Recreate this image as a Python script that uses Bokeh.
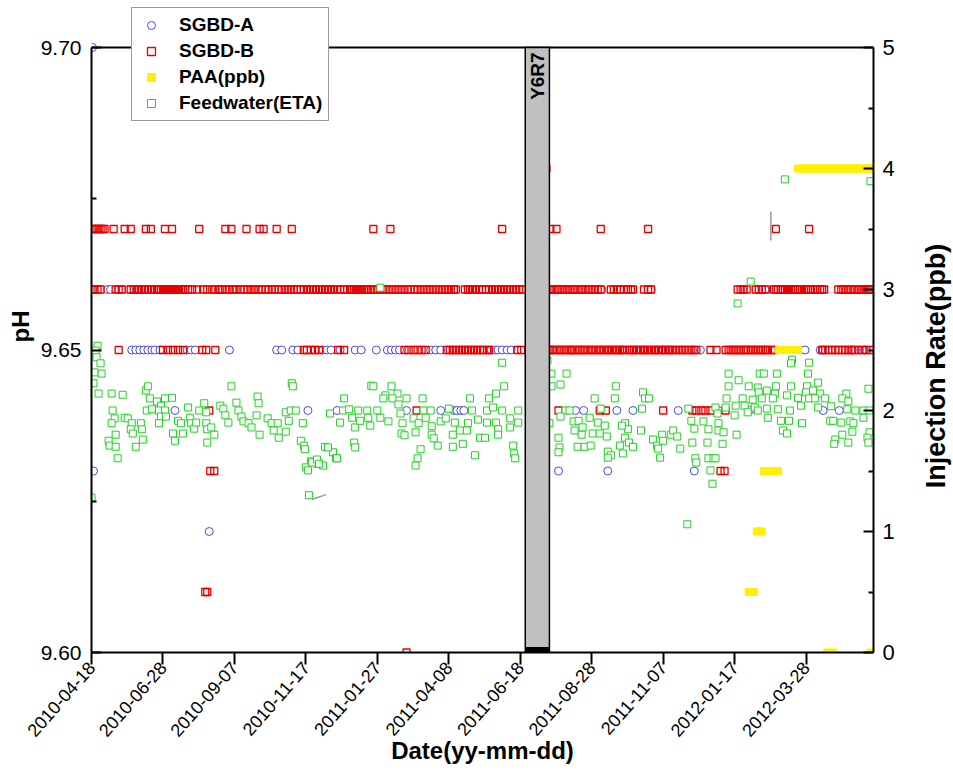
import math
from datetime import datetime
from bokeh.plotting import figure
from bokeh.layouts import row
from bokeh.core.properties import value
from bokeh.models import (Range1d, LinearAxis, FixedTicker, DatetimeTickFormatter,
                          NumeralTickFormatter, Legend, LegendItem, Label)
from bokeh.embed import file_html
from bokeh.resources import INLINE

# ---------------- data ----------------
START_DATE = "2010-04-18"          # day 0 of all day offsets below
X_END_DAY = 777                    # right end of the date axis (day offset)
tick_labels = ["2010-04-18", "2010-06-28", "2010-09-07", "2010-11-17", "2011-01-27",
               "2011-04-08", "2011-06-18", "2011-08-28", "2011-11-07", "2012-01-17",
               "2012-03-28"]
ph_ticks = [9.60, 9.65, 9.70]
ph_minor = [9.625, 9.675]
rate_ticks = [0, 1, 2, 3, 4, 5]
rate_minor = [0.5, 1.5, 2.5, 3.5, 4.5]
outage_label = "Y6R7"
outage_days = [431, 455]           # shaded outage period (day offsets)

# SGBD-A (blue circles): day offsets per pH level
a_970_days = [1]
a_966_days = [16, 19, 31, 37, 456, 507, 556, 647, 669, 687, 769, 774]
a_965_days = [40, 44, 48, 52, 56, 60, 63, 68, 95, 99, 103, 137, 184, 189, 200, 205, 230, 234,
              238, 247, 262, 268, 283, 294, 298, 302, 306, 337, 342, 347, 397, 401, 404, 408,
              413, 417, 458, 477, 527, 568, 605, 709, 724, 727, 756, 768]
a_964_days = [83, 215, 244, 313, 347, 360, 363, 367, 370, 481, 489, 522, 538, 583, 623, 654,
              727, 743]
a_963_days = [2, 464, 513, 599]
a_962_days = [117]

# SGBD-B (red squares): day offsets per pH level
b_968_days = [452]
b_967_days = [1, 3, 5, 7, 9, 11, 13, 22, 33, 39, 54, 59, 73, 80, 107, 133, 139, 154, 167, 171,
              184, 199, 280, 297, 408, 456, 462, 506, 553, 680, 713]
b_966_days = [1, 3, 6, 9, 24, 27, 30, 39, 42, 45, 47, 50, 53, 56, 59, 62, 65, 67, 69, 71, 73,
              75, 77, 79, 81, 83, 85, 87, 89, 91, 93, 96, 100, 105, 111, 115,
              120, 123, 126, 128, 130, 133, 137, 140, 142, 144, 148, 152, 155, 158, 161, 163,
              166, 169, 173, 176, 179, 182, 186, 189, 192, 195, 198, 201, 204, 208, 211, 214,
              217, 220, 223, 226, 229, 232, 235, 238, 241, 244, 247, 251, 254, 257, 259, 261,
              263, 265, 267, 269, 271, 273, 275, 278, 281, 284, 287, 290, 293, 296, 299, 302,
              305, 308, 311, 314, 317, 321, 324, 327, 330, 333, 336, 339, 342, 345, 348, 351,
              354, 357, 360, 362,
              371, 374, 376, 379, 382, 385, 388, 392, 395, 398, 401, 404, 407, 410, 413, 416,
              419, 422, 425, 428,
              455, 457, 460, 463, 465, 468, 470, 473, 475, 478, 480, 483, 486, 488, 491, 494,
              497, 500, 503, 506,
              516, 519, 522, 525, 529, 533, 536, 538,
              549, 553, 556,
              642, 645, 648, 651,
              660, 663, 666, 670,
              678, 680, 682, 685, 687, 689, 691,
              693, 695, 697, 699, 702, 704, 706, 708, 710, 712, 715, 717, 719, 721, 724, 726,
              728,
              742, 745, 747, 750, 752, 755, 758, 761, 763, 765, 767, 770, 772, 775]
b_965_days = [27, 71, 76, 81, 86, 91, 110, 114, 123, 211, 214, 218, 222, 226, 245, 251, 311,
              315, 320, 324, 328, 332, 353, 356, 359, 362, 365, 368, 371, 374, 377, 380, 383,
              386, 389, 393, 395, 423, 427,
              454, 456, 459, 462, 465, 467, 470, 472, 475, 477, 480, 483, 485, 488, 490, 493,
              496, 498, 501, 504, 506, 509, 512, 514, 517, 520, 522, 525, 528, 530, 534, 537,
              539, 542, 545, 548, 550, 553, 556, 559, 561, 564, 567, 570, 573, 575, 578, 581,
              584, 587, 590, 593, 596, 599, 601, 615, 621, 630, 633, 635, 638, 640, 643, 645,
              648, 650, 652, 655, 657, 660, 662, 665, 667, 670, 672, 676, 678, 726, 729, 732,
              736, 739, 742, 746, 749, 752, 755, 758, 762, 766, 770, 774]
b_964_days = [117, 323, 464, 505, 511, 568, 597, 601, 606, 610, 615, 630]
b_963_days = [118, 122, 625, 629]
b_961_days = [113, 115]
b_960_days = [313]

# PAA injection rate (ppb, right axis): day offsets per level
paa_40_days = [702, 705, 708, 711, 714, 717, 720, 723, 726, 729, 732, 735, 738, 741, 744, 747,
               750, 753, 756, 759, 762, 765, 768, 771, 774, 776]
paa_25_days = [683, 686, 689, 692, 695, 698, 700, 702]
paa_15_days = [668, 671, 674, 677, 680, 682]
paa_10_days = [661, 664, 666]
paa_05_days = [653, 656, 658]
paa_00_days = [731, 734, 737, 774]

# Feedwater (ETA) pH (green squares)
fw_days = [0, 6, 4, 5, 9, 3, 10, 2, 7, 20,
           31, 21, 23, 20, 24, 17, 18, 24, 26, 33,
           36, 40, 39, 41, 44, 49, 50, 51, 54, 56,
           58, 55, 60, 65, 69, 67, 73, 73, 80, 69,
           67, 74, 81, 83, 86, 89, 91, 96, 98, 99,
           102, 104, 107, 112, 114, 114, 115, 115, 119, 122,
           128, 131, 133, 136, 139, 144, 146, 149, 151, 156,
           159, 165, 166, 164, 167, 175, 179, 181, 185, 186,
           193, 193, 196, 199, 200, 198, 203, 210, 208, 211,
           212, 232, 218, 225, 230, 213, 215, 216, 219, 224,
           226, 240, 243, 408, 278, 280, 298, 304, 292, 290,
           299, 251, 313, 329, 376, 395, 402, 410, 305, 237,
           250, 256, 265, 274, 284, 307, 330, 337, 355, 378,
           393, 399, 408, 424, 247, 259, 262, 267, 275, 277,
           287, 295, 309, 320, 325, 332, 338, 347, 352, 361,
           374, 384, 393, 402, 416, 424, 416, 404, 308, 311,
           322, 338, 340, 344, 359, 366, 373, 369, 359, 386,
           391, 404, 261, 262, 235, 244, 327, 324, 322, 381,
           419, 420, 421, 287,
           453, 457, 472, 457, 466, 521, 548, 550, 554, 500,
           520, 471, 475, 506, 547, 593, 620, 466, 455, 479,
           484, 495, 503, 510, 488, 480, 487, 498, 505, 512,
           530, 533, 527, 546, 530, 534, 525, 538, 558, 562,
           567, 576, 578, 582, 568, 563, 565, 585, 596, 608,
           613, 599, 597, 612, 623, 627, 464, 465, 464, 483,
           490, 496, 513, 516, 513, 528, 600, 601, 613, 618,
           615, 617, 592, 689, 774, 655, 642, 696, 695, 713,
           633, 664, 668, 681, 712, 643, 633, 653, 662, 680,
           695, 711, 722, 772, 663, 671, 679, 691, 702, 710,
           717, 724, 631, 647, 657, 666, 677, 713, 719, 729,
           750, 746, 752, 630, 640, 649, 659, 671, 682, 694,
           705, 722, 735, 751, 759, 767, 773, 622, 639, 652,
           662, 672, 685, 693, 706, 734, 737, 745, 754, 757,
           767, 623, 628, 641, 687, 691, 746, 756, 773, 771,
           739, 738, 752, 772, 620]
fw_ph = [9.6256, 9.6507, 9.6499, 9.6488, 9.6478, 9.6463, 9.6461, 9.6445, 9.6428, 9.6428,
         9.6426, 9.6400, 9.6387, 9.6379, 9.6360, 9.6350, 9.6342, 9.6340, 9.6321, 9.6388,
         9.6387, 9.6379, 9.6369, 9.6362, 9.6340, 9.6379, 9.6369, 9.6352, 9.6433, 9.6440,
         9.6420, 9.6400, 9.6402, 9.6415, 9.6408, 9.6400, 9.6400, 9.6420, 9.6421, 9.6390,
         9.6379, 9.6390, 9.6362, 9.6350, 9.6383, 9.6379, 9.6362, 9.6405, 9.6388, 9.6379,
         9.6370, 9.6380, 9.6400, 9.6412, 9.6397, 9.6379, 9.6369, 9.6347, 9.6372, 9.6360,
         9.6408, 9.6403, 9.6392, 9.6380, 9.6440, 9.6413, 9.6400, 9.6390, 9.6382, 9.6379,
         9.6372, 9.6423, 9.6412, 9.6392, 9.6360, 9.6387, 9.6379, 9.6367, 9.6379, 9.6355,
         9.6365, 9.6397, 9.6383, 9.6445, 9.6440, 9.6400, 9.6400, 9.6379, 9.6350, 9.6342,
         9.6336, 9.6340, 9.6316, 9.6312, 9.6309, 9.6306, 9.6301, 9.6260, 9.6314, 9.6319,
         9.6312, 9.6331, 9.6321, 9.6479, 9.6441, 9.6440, 9.6440, 9.6428, 9.6425, 9.6420,
         9.6420, 9.6420, 9.6420, 9.6420, 9.6420, 9.6420, 9.6428, 9.6440, 9.6410, 9.6395,
         9.6400, 9.6402, 9.6400, 9.6400, 9.6400, 9.6395, 9.6400, 9.6400, 9.6403, 9.6400,
         9.6400, 9.6405, 9.6400, 9.6400, 9.6380, 9.6388, 9.6372, 9.6383, 9.6388, 9.6375,
         9.6388, 9.6382, 9.6379, 9.6387, 9.6379, 9.6388, 9.6374, 9.6382, 9.6387, 9.6380,
         9.6379, 9.6385, 9.6380, 9.6380, 9.6387, 9.6380, 9.6372, 9.6369, 9.6362, 9.6359,
         9.6364, 9.6360, 9.6354, 9.6342, 9.6360, 9.6367, 9.6367, 9.6345, 9.6340, 9.6355,
         9.6355, 9.6360, 9.6347, 9.6339, 9.6339, 9.6321, 9.6336, 9.6321, 9.6309, 9.6326,
         9.6342, 9.6329, 9.6321, 9.6603,
         9.6483, 9.6461, 9.6461, 9.6440, 9.6443, 9.6440, 9.6430, 9.6420, 9.6420, 9.6420,
         9.6420, 9.6400, 9.6400, 9.6403, 9.6403, 9.6403, 9.6405, 9.6390, 9.6379, 9.6382,
         9.6383, 9.6388, 9.6380, 9.6375, 9.6372, 9.6367, 9.6360, 9.6362, 9.6362, 9.6357,
         9.6379, 9.6369, 9.6375, 9.6367, 9.6355, 9.6347, 9.6342, 9.6340, 9.6352, 9.6342,
         9.6360, 9.6360, 9.6367, 9.6357, 9.6350, 9.6337, 9.6322, 9.6337, 9.6383, 9.6382,
         9.6369, 9.6370, 9.6347, 9.6347, 9.6379, 9.6345, 9.6355, 9.6339, 9.6331, 9.6340,
         9.6340, 9.6342, 9.6332, 9.6326, 9.6322, 9.6329, 9.6321, 9.6314, 9.6321, 9.6321,
         9.6301, 9.6279, 9.6212, 9.6782, 9.6779, 9.6613, 9.6577, 9.6484, 9.6478, 9.6479,
         9.6461, 9.6461, 9.6461, 9.6461, 9.6461, 9.6450, 9.6440, 9.6440, 9.6438, 9.6440,
         9.6440, 9.6440, 9.6446, 9.6436, 9.6430, 9.6433, 9.6428, 9.6425, 9.6421, 9.6430,
         9.6433, 9.6428, 9.6420, 9.6420, 9.6418, 9.6420, 9.6420, 9.6420, 9.6420, 9.6420,
         9.6428, 9.6420, 9.6415, 9.6405, 9.6408, 9.6408, 9.6405, 9.6403, 9.6402, 9.6400,
         9.6408, 9.6405, 9.6407, 9.6402, 9.6400, 9.6400, 9.6400, 9.6395, 9.6392, 9.6397,
         9.6400, 9.6388, 9.6383, 9.6383, 9.6379, 9.6383, 9.6383, 9.6380, 9.6382, 9.6379,
         9.6388, 9.6367, 9.6364, 9.6360, 9.6367, 9.6362, 9.6360, 9.6365, 9.6364, 9.6355,
         9.6352, 9.6345, 9.6347, 9.6347, 9.6321]
assert len(fw_days) == len(fw_ph)

# small grey marks seen in the original chart
mark_day0 = [675, 219]
mark_ph0 = [9.6729, 9.6253]
mark_day1 = [675, 233]
mark_ph1 = [9.6681, 9.6261]

# ---------------- helpers ----------------
EPOCH = datetime(1970, 1, 1)
DAY_MS = 86400000.0
START_MS = (datetime.strptime(START_DATE, "%Y-%m-%d") - EPOCH).total_seconds() * 1000.0


def xs(days):
    return [START_MS + d * DAY_MS for d in days]


def date_ms(s):
    return (datetime.strptime(s, "%Y-%m-%d") - EPOCH).total_seconds() * 1000.0


def stack(groups):
    xx, yy = [], []
    for level, days in groups:
        xx += xs(days)
        yy += [level] * len(days)
    return xx, yy


FONT = "Liberation Sans"
BLUE = "#4a4ad8"
RED = "#e80000"
GREEN = "#22d022"
YELLOW = "#fff000"

TOTAL_W, TOTAL_H = 953, 774
TITLE_W = 40                       # strip on the right that holds the right-axis title

# frame: 782 x 652 px; the pH scale (9.60-9.70) occupies the lower 605 px,
# the strip above 9.70 holds the legend, as in the original.
FRAME_H = 652
SCALE_H = 605
PH_LO, PH_HI = ph_ticks[0], ph_ticks[-1]
ph_top = PH_LO + (PH_HI - PH_LO) * FRAME_H / SCALE_H
rate_top = rate_ticks[-1] * FRAME_H / SCALE_H
X0, X1 = START_MS, START_MS + X_END_DAY * DAY_MS

p = figure(width=TOTAL_W - TITLE_W, height=TOTAL_H, x_axis_type="datetime",
           x_range=Range1d(X0, X1), y_range=Range1d(PH_LO, ph_top),
           output_backend="svg", toolbar_location=None,
           min_border_left=91, min_border_right=40, min_border_top=0, min_border_bottom=122,
           background_fill_color="white", border_fill_color="white")
p.extra_y_ranges = {"inj": Range1d(0, rate_top)}
p.xgrid.visible = False
p.ygrid.visible = False
p.outline_line_color = None

# x axis
xa = p.xaxis[0]
xa.ticker = FixedTicker(ticks=[date_ms(s) for s in tick_labels])
fmt = "%Y-%m-%d"
xa.formatter = DatetimeTickFormatter(microseconds=fmt, milliseconds=fmt, seconds=fmt, minsec=fmt,
                                     minutes=fmt, hourmin=fmt, hours=fmt, days=fmt,
                                     months=fmt, years=fmt)
xa.major_label_orientation = 0.85
xa.major_label_text_font = FONT
xa.major_label_text_font_size = "18px"
xa.major_label_text_color = "black"
xa.major_label_standoff = 0
xa.major_tick_out = 12
xa.major_tick_in = 0
xa.minor_tick_line_color = None
xa.axis_line_width = 2
xa.axis_line_color = "black"
xa.major_tick_line_width = 2
xa.major_tick_line_color = "black"
xa.axis_label = "Date(yy-mm-dd)"
xa.axis_label_text_font = FONT
xa.axis_label_text_font_style = "bold"
xa.axis_label_text_font_size = "24px"
xa.axis_label_text_color = "black"
xa.axis_label_standoff = -8

# left axis
ya = p.yaxis[0]
ya.bounds = (PH_LO, PH_HI)
ya.ticker = FixedTicker(ticks=ph_ticks, minor_ticks=ph_minor)
ya.formatter = NumeralTickFormatter(format="0.00")
ya.major_tick_in = 10
ya.major_tick_out = 0
ya.minor_tick_in = 5
ya.minor_tick_out = 0
ya.axis_line_width = 2
ya.axis_line_color = "black"
ya.major_tick_line_width = 2
ya.minor_tick_line_width = 2
ya.major_tick_line_color = "black"
ya.minor_tick_line_color = "black"
ya.major_label_text_font = FONT
ya.major_label_text_font_size = "21px"
ya.major_label_text_color = "black"
ya.major_label_standoff = 10
ya.axis_label = "pH"
ya.axis_label_text_font = FONT
ya.axis_label_text_font_style = "bold"
ya.axis_label_text_font_size = "24px"
ya.axis_label_text_color = "black"
ya.axis_label_standoff = 4

# right axis (ticks and numbers; its title sits in the strip to the right)
ra = LinearAxis(y_range_name="inj", bounds=(rate_ticks[0], rate_ticks[-1]),
                ticker=FixedTicker(ticks=rate_ticks, minor_ticks=rate_minor))
ra.major_tick_in = 10
ra.major_tick_out = 0
ra.minor_tick_in = 5
ra.minor_tick_out = 0
ra.axis_line_width = 2
ra.axis_line_color = "black"
ra.major_tick_line_width = 2
ra.minor_tick_line_width = 2
ra.major_tick_line_color = "black"
ra.minor_tick_line_color = "black"
ra.major_label_text_font = FONT
ra.major_label_text_font_size = "22px"
ra.major_label_text_color = "black"
ra.major_label_standoff = 9
p.add_layout(ra, "right")

# series
ax, ay = stack([(9.70, a_970_days), (9.66, a_966_days), (9.65, a_965_days),
                (9.64, a_964_days), (9.63, a_963_days), (9.62, a_962_days)])
p.scatter(ax, ay, marker="circle", size=8, line_color=BLUE, fill_color="white", line_width=1)

bx, by = stack([(9.68, b_968_days), (9.67, b_967_days), (9.66, b_966_days),
                (9.65, b_965_days), (9.64, b_964_days), (9.63, b_963_days),
                (9.61, b_961_days), (9.60, b_960_days)])
p.scatter(bx, by, marker="square", size=7, line_color=RED, fill_color=None, line_width=1.3)

px, py = stack([(4.0, paa_40_days), (2.5, paa_25_days), (1.5, paa_15_days),
                (1.0, paa_10_days), (0.5, paa_05_days), (0.0, paa_00_days)])
p.scatter(px, py, y_range_name="inj", marker="square", size=7, line_color=YELLOW,
          fill_color=YELLOW, line_width=1)

p.scatter(xs(fw_days), fw_ph, marker="square", size=7, line_color=GREEN,
          fill_color="white", line_width=1)

p.segment(x0=xs(mark_day0), y0=mark_ph0, x1=xs(mark_day1), y1=mark_ph1,
          line_color="#9a9a9a", line_width=1.5)

# top border of the pH box
p.segment(x0=[X0], y0=[PH_HI], x1=[X1], y1=[PH_HI], line_color="black", line_width=2)

# outage band (drawn over the points) and its label
b0, b1 = xs(outage_days)
p.quad(left=[b0], right=[b1], bottom=[PH_LO], top=[PH_HI], fill_color="#c0c0c0",
       line_color="black", line_width=1.5)
p.quad(left=[b0], right=[b1], bottom=[PH_LO], top=[PH_LO + 0.0009], fill_color="black",
       line_color=None)
p.text(x=[(b0 + b1) / 2], y=[PH_HI - 0.0008], text=[outage_label], angle=math.pi / 2,
       text_align="right", text_baseline="middle", text_font=value(FONT),
       text_font_style="bold", text_font_size="19px", text_color="black")

# legend keys: renderers with one undefined point, styled like the series
NAN = float("nan")
k_a = p.scatter(x=[NAN], y=[NAN], marker="circle", size=8, line_color=BLUE,
                fill_color="white", line_width=1)
k_b = p.scatter(x=[NAN], y=[NAN], marker="square", size=7, line_color=RED,
                fill_color="white", line_width=1.3)
k_p = p.scatter(x=[NAN], y=[NAN], marker="square", size=7, line_color=YELLOW,
                fill_color=YELLOW, line_width=1)
k_f = p.scatter(x=[NAN], y=[NAN], marker="square", size=7, line_color=GREEN,
                fill_color="white", line_width=1)

legend = Legend(items=[LegendItem(label="SGBD-A", renderers=[k_a]),
                       LegendItem(label="SGBD-B", renderers=[k_b]),
                       LegendItem(label="PAA(ppb)", renderers=[k_p]),
                       LegendItem(label="Feedwater(ETA)", renderers=[k_f])],
                location=(40, 531))
legend.label_text_font = FONT
legend.label_text_font_style = "bold"
legend.label_text_font_size = "19px"
legend.label_text_color = "black"
legend.glyph_width = 26
legend.glyph_height = 20
legend.label_height = 20
legend.label_standoff = 15
legend.padding = 6
legend.spacing = 4
legend.margin = 0
legend.border_line_color = "#333333"
legend.border_line_width = 1
legend.background_fill_color = "white"
legend.background_fill_alpha = 1.0
p.add_layout(legend)

# right-axis title strip (reads bottom to top, centred a little below mid-height)
t = figure(width=TITLE_W, height=TOTAL_H, x_range=Range1d(0, 1), y_range=Range1d(0, TOTAL_H),
           output_backend="svg", toolbar_location=None, x_axis_location=None,
           y_axis_location=None, min_border=0, outline_line_color=None,
           background_fill_color="white", border_fill_color="white")
t.grid.visible = False
t.add_layout(Label(x=0.55, y=TOTAL_H - 434, text="Injection Rate(ppb)", angle=math.pi / 2,
                   text_align="center", text_baseline="middle", text_font=FONT,
                   text_font_style="bold", text_font_size="27px", text_color="black"))

layout = row(p, t, spacing=0)
open("out.html", "w").write(file_html(layout, INLINE))
